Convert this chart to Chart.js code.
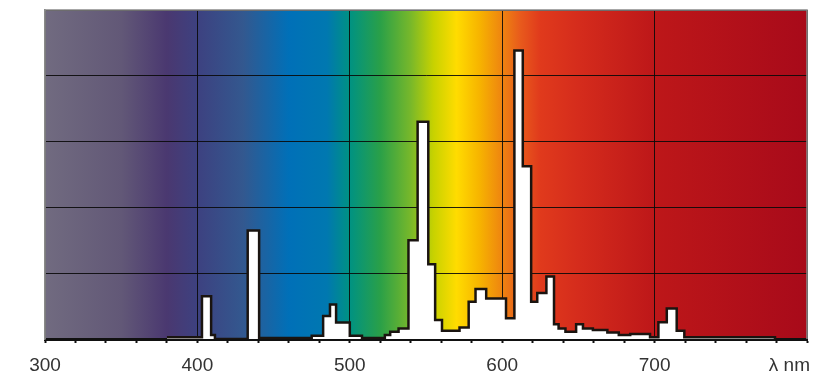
<!DOCTYPE html>
<html>
<head>
<meta charset="utf-8">
<script src="https://cdn.jsdelivr.net/npm/chart.js@4"></script>
<style>
  body { margin: 0; background: #fff; }
</style>
</head>
<body>
<canvas id="spectrumChart" width="825" height="384"></canvas>
<script>
// Wavelength (nm) where each step starts, and its relative level
const edges = [380, 403, 409, 411.5, 433, 440.5, 475, 482.5, 487, 491, 500, 508, 523, 526.5, 532,
  538.5, 544.5, 551.5, 556, 560.5, 572, 578, 582.5, 589.5, 602.5, 608, 613.5, 619, 623, 629,
  634, 637, 641.5, 648.5, 653, 659.5, 669, 676.5, 684, 697, 702.5, 708, 714.5, 719.5, 779];
const levels = [0.5, 13, 1.2, 0, 33, 0.3, 1, 7, 10.5, 5, 1, 0.3, 1.2, 2.2, 3.2,
  30, 66, 22.7, 5.8, 2.5, 3.5, 11.3, 15.2, 12.3, 6.3, 87.7, 52.5, 11.3, 14, 19,
  4.5, 3.2, 2.2, 4.5, 3.2, 2.7, 2, 1.2, 1.5, 0.5, 5.1, 9.3, 2.5, 0.5, 0];

const xLabels = ['300', '400', '500', '600', '700'];
const unitLabel = 'λ nm';

// colours of the visible spectrum behind the plot
const spectrumNm = [300, 350, 380, 400, 430, 460, 485, 500, 520, 540, 555, 570, 585, 600, 612, 625, 650, 700, 800];
const spectrumColors = ['#716b80', '#625877', '#4a3870', '#3d4180', '#33588f', '#0070b8', '#0078b0', '#009282',
  '#2aa048', '#78b82a', '#c8d200', '#ffdc00', '#f7b400', '#ee8410', '#e85a1c', '#e03a1c', '#d52c1c', '#bd1719', '#a80a1a'];

const backgroundPlugin = {
  id: 'spectrumBackground',
  beforeDraw(chart) {
    let ctx = chart.ctx;
    let a = chart.chartArea;
    let x = chart.scales.x;
    let grad = ctx.createLinearGradient(x.getPixelForValue(300), 0, x.getPixelForValue(800), 0);
    spectrumNm.forEach((nm, i) => grad.addColorStop((nm - 300) / 500, spectrumColors[i]));
    ctx.save();
    ctx.fillStyle = grad;
    ctx.fillRect(a.left, a.top, a.right - a.left, a.bottom - a.top);
    ctx.restore();
  },
  afterDraw(chart) {
    let ctx = chart.ctx;
    let a = chart.chartArea;
    ctx.save();
    // grey frame on top and sides
    ctx.strokeStyle = '#8a8a8a';
    ctx.lineWidth = 1.5;
    ctx.beginPath();
    ctx.moveTo(a.left, a.bottom);
    ctx.lineTo(a.left, a.top);
    ctx.lineTo(a.right, a.top);
    ctx.lineTo(a.right, a.bottom);
    ctx.stroke();
    // unit label at the end of the axis
    ctx.fillStyle = '#333';
    ctx.font = '19px "Liberation Sans", Arial, sans-serif';
    ctx.textAlign = 'right';
    ctx.textBaseline = 'middle';
    ctx.fillText(unitLabel, chart.scales.x.getPixelForValue(800) + 3, 366);
    ctx.restore();
  }
};

let ctx = document.getElementById('spectrumChart').getContext('2d');
let chart = new Chart(ctx, {
  type: 'line',
  data: {
    datasets: [{
      data: edges.map((nm, i) => ({ x: nm, y: levels[i] })),
      stepped: 'before',
      borderColor: '#1a1410',
      borderWidth: 2.5,
      backgroundColor: '#ffffff',
      fill: 'origin',
      pointRadius: 0
    }]
  },
  options: {
    responsive: false,
    animation: false,
    layout: { padding: { left: 45, right: 18, top: 10, bottom: -4 } },
    plugins: { legend: { display: false }, tooltip: { enabled: false } },
    scales: {
      x: {
        type: 'linear',
        min: 300,
        max: 800,
        ticks: {
          stepSize: 20,
          autoSkip: false,
          maxRotation: 0,
          padding: 13,
          color: '#333',
          font: { family: '"Liberation Sans", Arial, sans-serif', size: 19, lineHeight: 1 },
          callback: function(value) {
            let i = xLabels.indexOf(String(value));
            return i >= 0 ? xLabels[i] : '';
          }
        },
        grid: {
          color: c => (c.tick && c.tick.value % 100 === 0) ? 'rgba(10,10,10,0.9)' : 'rgba(0,0,0,0)',
          tickColor: '#111',
          tickLength: 4,
          tickWidth: 2,
          lineWidth: 1
        },
        border: { color: '#111', width: 3 }
      },
      y: {
        min: 0,
        max: 100,
        ticks: { display: false, stepSize: 20 },
        grid: { color: 'rgba(10,10,10,0.9)', lineWidth: 1, drawTicks: false },
        border: { color: '#8a8a8a', width: 1.5 }
      }
    }
  },
  plugins: [backgroundPlugin]
});
</script>
</body>
</html>
